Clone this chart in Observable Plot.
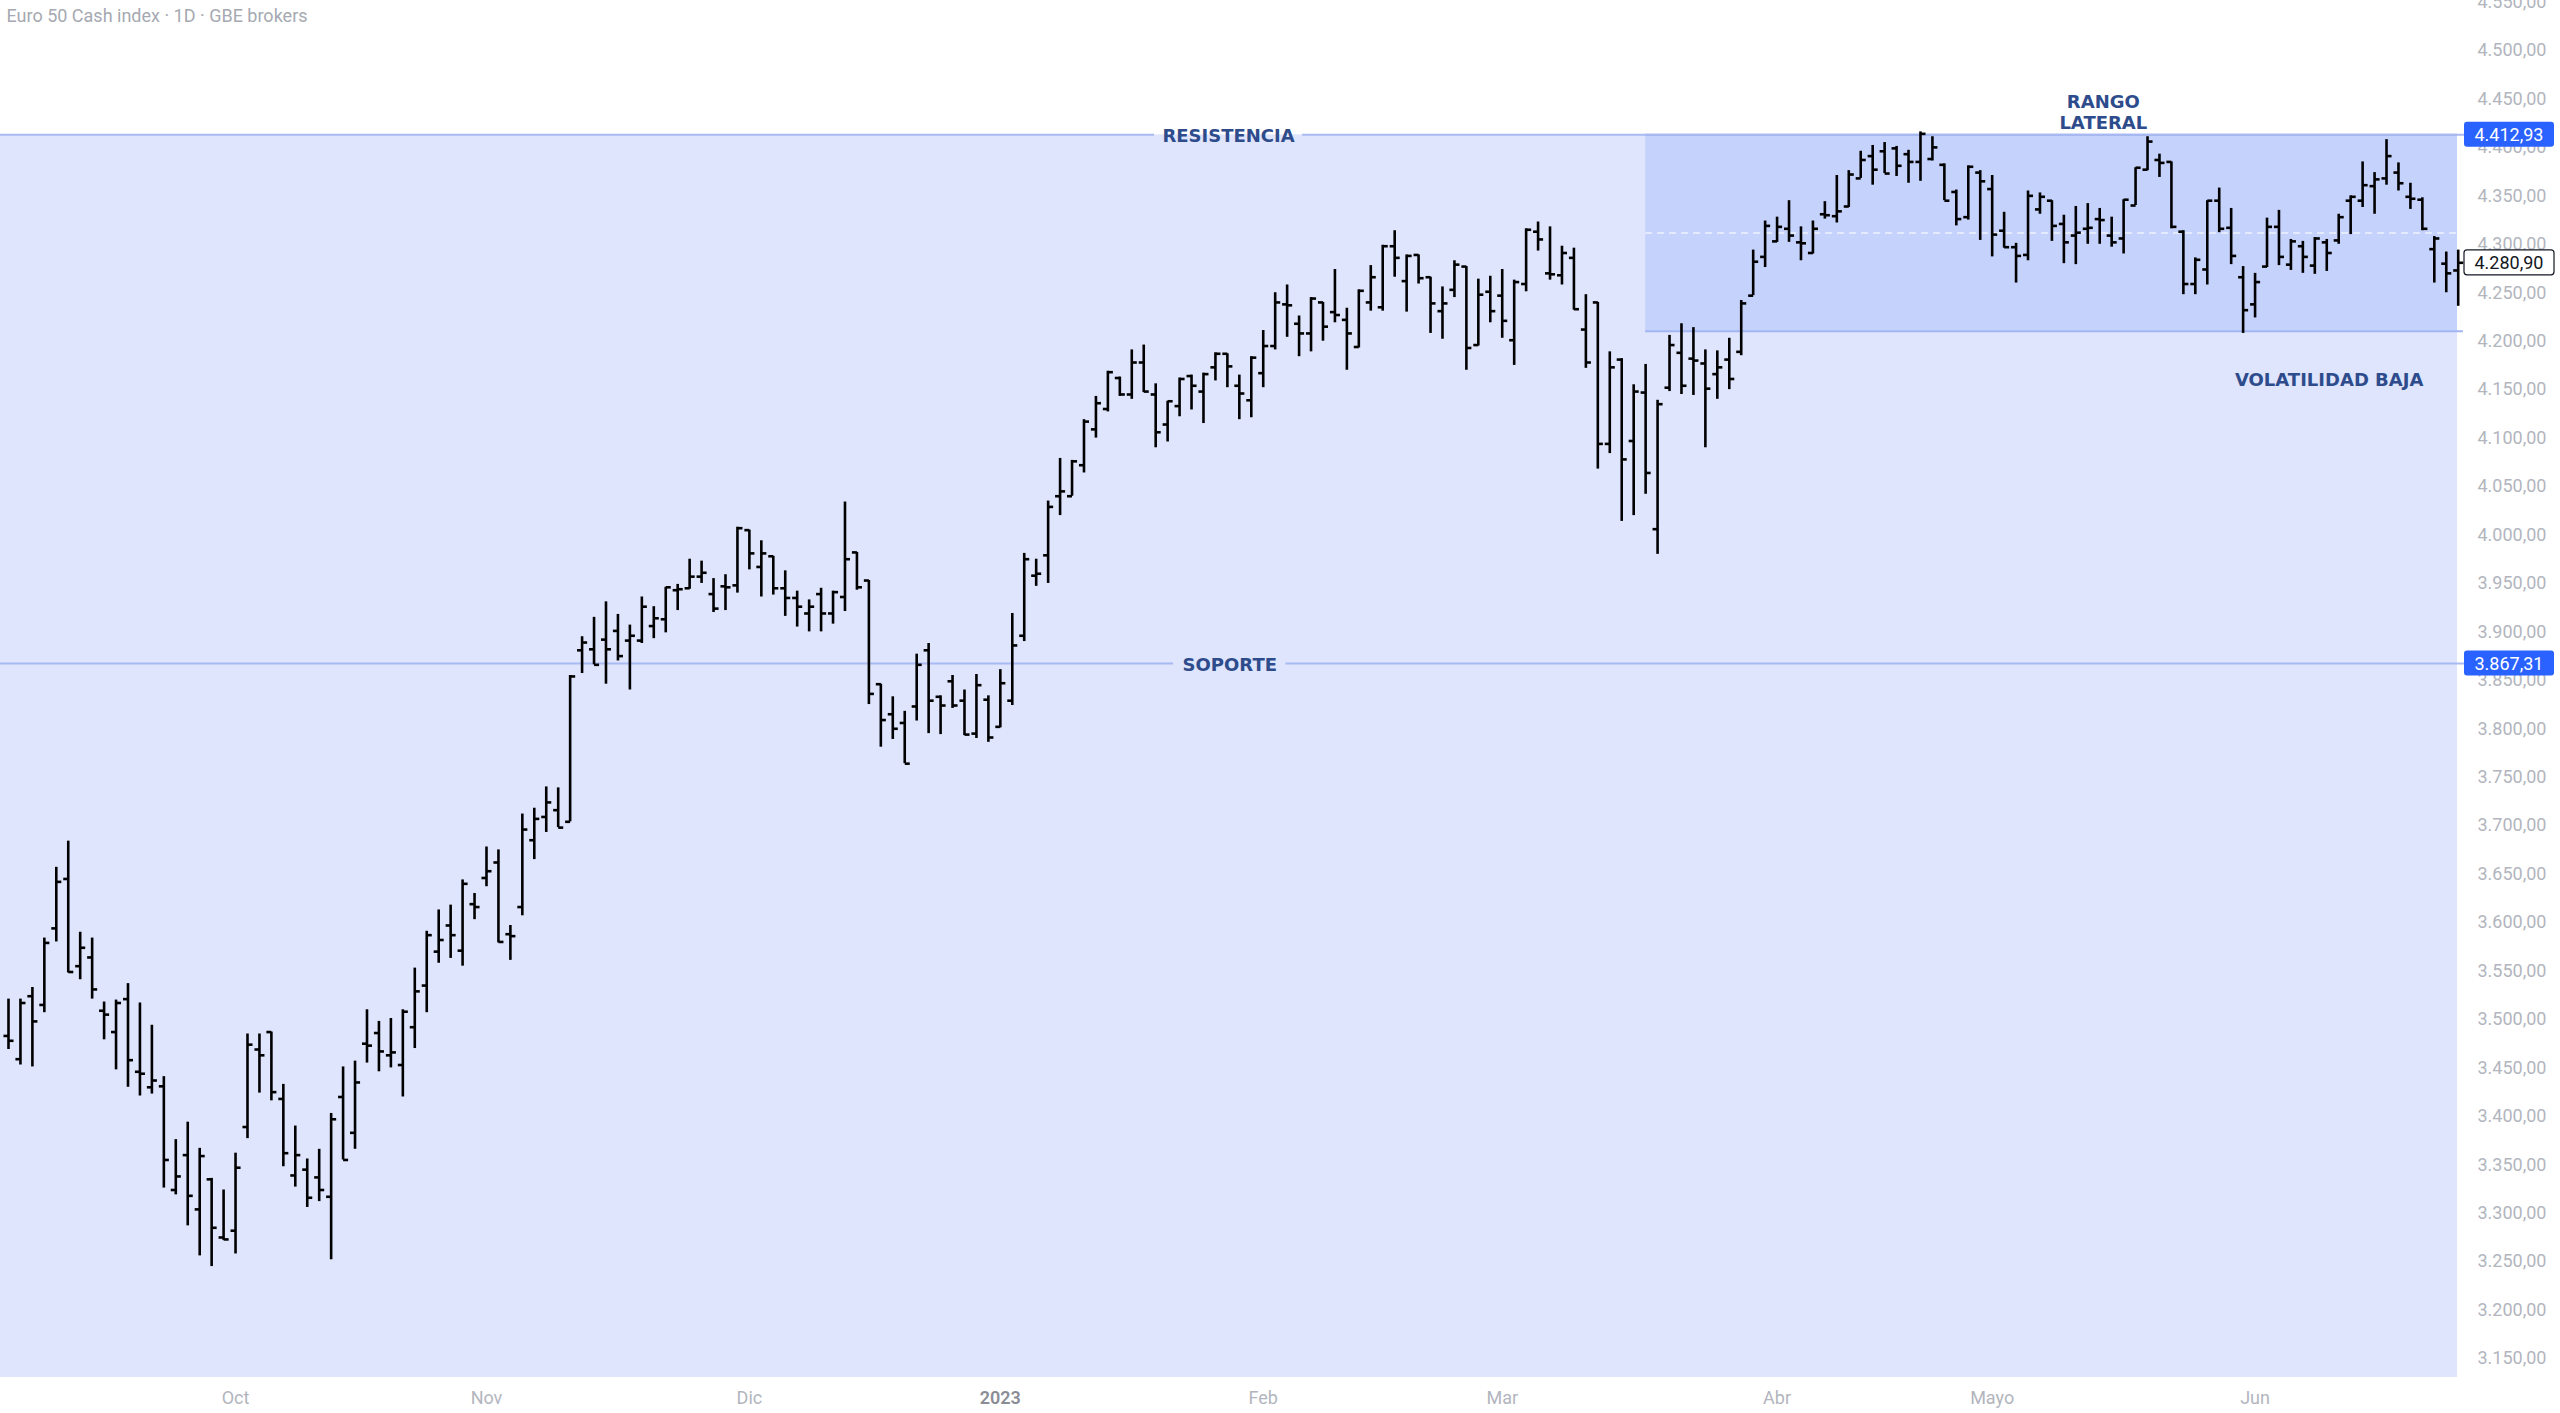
<!DOCTYPE html>
<html>
<head>
<meta charset="utf-8">
<script src="https://cdn.jsdelivr.net/npm/d3@7"></script>
<script src="https://cdn.jsdelivr.net/npm/@observablehq/plot@0.6"></script>
<style>
html, body { margin: 0; padding: 0; background: #ffffff; overflow: hidden; }
#chart svg { display: block; }
</style>
</head>
<body>
<div id="chart"></div>
<script>
// ---- Data: daily OHLC bars (Sep 6 2022 .. Jun 26 2023) ----
const openP = [3483,3459,3524,3515,3594,3645,3555,3564,3509,3487,3521,3446,3430,3431,3324,3360,3304,3335,3275,3282,
3389,3469,3487,3418,3339,3345,3337,3317,3420,3383,3475,3486,3463,3453,3492,3535,3570,3597,3571,3619,
3646,3662,3588,3616,3685,3709,3716,3704,3881,3882,3892,3901,3891,3891,3906,3913,3943,3945,3957,3939,
3947,3948,4005,3967,3978,3945,3935,3919,3939,3919,3936,3982,3953,3846,3815,3806,3823,3881,3833,3849,
3829,3795,3830,3802,3829,3896,3958,3979,4040,4040,4072,4109,4130,4162,4145,4178,4145,4114,4133,4164,
4148,4173,4187,4154,4139,4167,4195,4238,4218,4208,4240,4230,4222,4194,4240,4235,4298,4262,4289,4266,
4231,4253,4277,4196,4251,4247,4201,4259,4313,4270,4268,4286,4212,4240,4094,4181,4097,4147,4006,4152,
4188,4182,4177,4166,4181,4189,4247,4287,4303,4316,4302,4291,4331,4329,4339,4368,4391,4396,4399,4393,
4385,4388,4382,4354,4328,4374,4357,4314,4297,4289,4336,4345,4321,4309,4316,4326,4309,4306,4340,4377,
4387,4385,4313,4259,4274,4345,4317,4266,4238,4277,4318,4279,4298,4278,4302,4304,4345,4345,4360,4368,
4374,4349,4346,4295,4280,4273];
const highP = [3521,3521,3533,3584,3657,3684,3590,3584,3518,3520,3537,3517,3494,3441,3376,3394,3367,3336,3324,3362,
3485,3485,3487,3433,3390,3356,3366,3403,3451,3457,3510,3498,3501,3510,3553,3591,3613,3618,3644,3630,
3678,3675,3597,3712,3718,3740,3739,3855,3895,3915,3931,3918,3907,3936,3926,3946,3949,3975,3973,3955,
3959,4008,4005,3994,3978,3963,3942,3933,3945,3942,4034,3982,3953,3846,3833,3818,3877,3888,3834,3855,
3840,3856,3834,3861,3919,3981,3975,4035,4079,4077,4119,4143,4169,4163,4191,4196,4156,4138,4162,4165,
4167,4188,4187,4165,4184,4211,4250,4258,4226,4245,4240,4274,4234,4253,4278,4299,4314,4289,4289,4266,
4256,4283,4277,4264,4267,4274,4263,4316,4323,4318,4298,4296,4248,4240,4189,4182,4155,4176,4139,4206,
4218,4214,4191,4190,4203,4242,4294,4324,4328,4345,4318,4324,4344,4371,4376,4396,4402,4405,4401,4397,
4416,4411,4383,4356,4381,4376,4371,4333,4301,4355,4353,4345,4330,4339,4342,4337,4328,4346,4379,4411,
4393,4385,4314,4286,4345,4358,4337,4277,4270,4327,4335,4305,4303,4307,4305,4331,4350,4385,4374,4408,
4384,4363,4348,4308,4292,4294];
const lowP = [3469,3453,3451,3507,3580,3548,3541,3521,3479,3448,3430,3421,3423,3326,3319,3287,3256,3245,3272,3258,
3377,3424,3416,3348,3327,3306,3312,3252,3355,3366,3455,3446,3450,3420,3470,3507,3558,3563,3555,3603,
3637,3579,3561,3607,3665,3693,3698,3704,3857,3866,3846,3870,3840,3888,3893,3899,3922,3944,3950,3920,
3922,3940,3964,3936,3938,3916,3905,3900,3900,3908,3921,3943,3825,3781,3789,3764,3808,3795,3794,3821,
3793,3790,3786,3801,3824,3890,3947,3950,4020,4040,4064,4100,4127,4143,4140,4147,4090,4096,4122,4129,
4115,4159,4152,4119,4121,4152,4191,4204,4184,4189,4200,4219,4170,4193,4231,4231,4266,4230,4259,4208,
4202,4245,4170,4195,4219,4203,4175,4251,4293,4263,4258,4232,4172,4068,4084,4014,4020,4042,3980,4148,
4145,4144,4090,4140,4150,4185,4247,4276,4302,4302,4283,4290,4326,4322,4338,4368,4361,4373,4370,4363,
4365,4386,4345,4319,4325,4304,4287,4296,4260,4283,4331,4303,4280,4279,4300,4300,4297,4290,4340,4376,
4369,4316,4248,4248,4258,4312,4279,4208,4224,4276,4278,4273,4270,4269,4272,4300,4310,4338,4331,4361,
4355,4336,4314,4260,4250,4236];
const closeP = [3478,3517,3498,3579,3642,3549,3574,3531,3505,3517,3458,3444,3437,3355,3338,3318,3359,3285,3273,3347,
3474,3463,3425,3362,3360,3316,3324,3397,3355,3435,3473,3467,3466,3508,3529,3587,3582,3587,3640,3616,
3653,3580,3586,3696,3707,3724,3698,3854,3889,3866,3882,3875,3896,3926,3914,3946,3944,3957,3961,3924,
3946,4007,3981,3981,3945,3935,3926,3926,3919,3941,3975,3946,3836,3809,3800,3764,3866,3829,3824,3824,
3794,3845,3791,3847,3886,3975,3960,4029,4045,4076,4117,4136,4168,4145,4178,4148,4106,4138,4161,4154,
4166,4187,4174,4146,4183,4195,4240,4237,4208,4244,4215,4227,4208,4252,4266,4298,4286,4288,4265,4239,
4239,4279,4193,4248,4231,4221,4261,4315,4305,4269,4291,4233,4178,4094,4173,4078,4148,4064,4135,4196,
4154,4180,4151,4173,4161,4239,4282,4319,4318,4309,4301,4316,4330,4334,4372,4387,4377,4373,4381,4385,
4414,4400,4345,4326,4380,4365,4310,4297,4288,4350,4349,4319,4302,4312,4317,4325,4302,4346,4379,4406,
4384,4318,4259,4284,4345,4316,4288,4232,4261,4318,4287,4303,4287,4306,4291,4328,4349,4361,4367,4391,
4363,4347,4316,4306,4270,4280.90];

// x-axis month labels and the bar (trading day) where each month starts
const monthLabels   = ["Oct", "Nov", "Dic", "2023", "Feb", "Mar", "Abr", "Mayo", "Jun"];
const monthStartBar = [19, 40, 62, 83, 105, 125, 148, 166, 188];

// price levels drawn on the chart
const resistance = 4412.93;
const support    = 3867.31;
const rangeLow   = 4210.3;
const lastPrice  = 4280.90;
const rangeStartBar = 137;

// y-axis tick values
const yTicks = d3.range(3150, 4551, 50);

// annotation texts
const titleText = "Euro 50 Cash index · 1D · GBE brokers";
const lineLabels = [
  {text: "RESISTENCIA", bar: 102.1, price: resistance, halfGap: 6.2},
  {text: "SOPORTE",     bar: 102.2, price: support,    halfGap: 4.7}
];
const zoneLabels = [
  {text: "RANGO\nLATERAL",   bar: 175.3, price: 4437},
  {text: "VOLATILIDAD BAJA", bar: 194.2, price: 4160.5}
];

// ---- build ----
const bars = openP.map((o, i) => ({i, o, h: highP[i], l: lowP[i], c: closeP[i]}));
const months = monthLabels.map((label, k) => ({label, i: monthStartBar[k]}));
const fmt = d3.formatLocale({decimal: ",", thousands: ".", grouping: [3], currency: ["", ""]}).format(",.2f");

const xDomain = [-0.669, 204.94];
const yDomain = [3130.5, 4551.6];
const lineEnd = 205.55;
const W = 2560, H = 1413, MT = 0, MR = 103, MB = 36, ML = 0;

// line segments with a gap around each label
const lineSegs = lineLabels.flatMap(d => [
  {price: d.price, x1: xDomain[0], x2: d.bar - d.halfGap},
  {price: d.price, x1: d.bar + d.halfGap, x2: lineEnd}
]);

function priceTag(value, fill, stroke, textColor) {
  return (index, scales, values, dims) => {
    const yf = scales && scales.y ? scales.y : d3.scaleLinear(yDomain, [H - MB, MT]);
    const y = yf(value);
    const width = dims && dims.width ? dims.width : W;
    const mr = dims && dims.marginRight != null ? dims.marginRight : MR;
    const x0 = width - mr + 7;
    const g = d3.create("svg:g");
    g.append("rect")
      .attr("x", x0).attr("y", y - 12.5).attr("width", 90).attr("height", 25).attr("rx", 3)
      .attr("fill", fill).attr("stroke", stroke).attr("stroke-width", stroke === "none" ? 0 : 1.2);
    g.append("text")
      .attr("x", x0 + 45).attr("y", y).attr("dy", "0.36em").attr("text-anchor", "middle")
      .attr("fill", textColor).attr("font-family", "Roboto, sans-serif").attr("font-size", 18)
      .text(fmt(value));
    return g.node();
  };
}

const chart = Plot.plot({
  width: W, height: H,
  marginTop: MT, marginRight: MR, marginBottom: MB, marginLeft: ML,
  style: {background: "#ffffff", fontFamily: "Roboto, sans-serif", overflow: "visible"},
  x: {type: "linear", domain: xDomain, axis: null},
  y: {type: "linear", domain: yDomain},
  marks: [
    // light background zone below the resistance
    Plot.rect([0], {x1: xDomain[0], x2: xDomain[1], y1: yDomain[0], y2: resistance, fill: "#dee5fd"}),
    // lateral range box
    Plot.rect([0], {x1: rangeStartBar, x2: xDomain[1], y1: rangeLow, y2: resistance, fill: "#c5d2fb"}),
    Plot.ruleY([rangeLow], {x1: rangeStartBar, x2: xDomain[1] + 0.5, stroke: "#a2b5f3", strokeWidth: 2}),
    Plot.ruleY([resistance], {x1: rangeStartBar, x2: xDomain[1], stroke: "#98adf2", strokeWidth: 2}),
    Plot.ruleY([(rangeLow + resistance) / 2], {x1: rangeStartBar, x2: xDomain[1], stroke: "#eef2ff", strokeWidth: 1.5, strokeDasharray: "7,5"}),
    // resistance / support lines
    Plot.ruleY(lineSegs, {y: "price", x1: "x1", x2: "x2", stroke: "#a9b9f1", strokeWidth: 2}),
    // OHLC bars
    Plot.ruleX(bars, {x: "i", y1: "l", y2: "h", stroke: "#000000", strokeWidth: 2.6}),
    Plot.link(bars, {x1: d => d.i - 0.42, x2: "i", y1: "o", y2: "o", stroke: "#000000", strokeWidth: 2.6}),
    Plot.link(bars, {x1: "i", x2: d => d.i + 0.42, y1: "c", y2: "c", stroke: "#000000", strokeWidth: 2.6}),
    // labels
    Plot.text(lineLabels, {x: "bar", y: "price", text: "text", dy: 1.5, fill: "#2e4c8c",
      fontFamily: "DejaVu Sans", fontWeight: "bold", fontSize: 18, lineAnchor: "middle"}),
    Plot.text(zoneLabels, {x: "bar", y: "price", text: "text", fill: "#2e4c8c",
      fontFamily: "DejaVu Sans", fontWeight: "bold", fontSize: 18, lineAnchor: "middle", lineHeight: 1.17}),
    // y axis on the right
    Plot.axisY({anchor: "right", ticks: yTicks, tickSize: 0, tickPadding: 20, tickFormat: fmt,
      fill: "#b2b5be", fontSize: 18, fontFamily: "Roboto, sans-serif", label: null}),
    // x axis month labels
    Plot.text(months.filter(d => d.label !== "2023"), {x: "i", text: "label", frameAnchor: "bottom", dy: 21,
      lineAnchor: "middle", fill: "#b2b5be", fontSize: 18, fontFamily: "Roboto, sans-serif"}),
    Plot.text(months.filter(d => d.label === "2023"), {x: "i", text: "label", frameAnchor: "bottom", dy: 21,
      lineAnchor: "middle", fill: "#8a8d96", fontSize: 18, fontWeight: 600, fontFamily: "Roboto, sans-serif"}),
    // title
    Plot.text([titleText], {frameAnchor: "top-left", dx: 6, dy: 16, lineAnchor: "middle", textAnchor: "start",
      fill: "#a6a9b1", fontSize: 18, fontFamily: "Roboto, sans-serif"}),
    // price tags on the axis
    priceTag(resistance, "#2962ff", "none", "#ffffff"),
    priceTag(support, "#2962ff", "none", "#ffffff"),
    priceTag(lastPrice, "#ffffff", "#131722", "#131722")
  ]
});
document.getElementById("chart").appendChild(chart);
</script>
</body>
</html>
